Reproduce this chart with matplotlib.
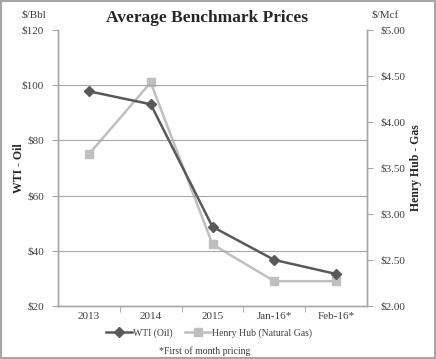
import matplotlib.pyplot as plt
from matplotlib.patches import Rectangle

categories = ['2013', '2014', '2015', 'Jan-16*', 'Feb-16*']
wti_oil = [97.8, 93.1, 48.7, 36.7, 31.6]
henry_hub = [3.65, 4.43, 2.67, 2.27, 2.27]
left_ticks = [20, 40, 60, 80, 100, 120]
right_ticks = [2.00, 2.50, 3.00, 3.50, 4.00, 4.50, 5.00]

plt.rcParams['font.family'] = ['Liberation Serif', 'DejaVu Serif']

fig = plt.figure(figsize=(4.36, 3.59), dpi=100)
ax = fig.add_axes([58 / 436, 1 - 306 / 359, 309 / 436, 276 / 359])
ax2 = ax.twinx()

x = list(range(len(categories)))
grid_col = '#a6a6a6'
txt_col = '#404040'

for v in left_ticks[1:-1]:
    ax.axhline(v, color=grid_col, lw=0.8, zorder=0)

l1, = ax.plot(x, wti_oil, color='#595959', lw=1.8, marker='D', ms=5,
              label='WTI (Oil)', zorder=3)
l2, = ax2.plot(x, henry_hub, color='#bfbfbf', lw=1.8, marker='s', ms=6,
               label='Henry Hub (Natural Gas)', zorder=2)
ax.set_zorder(ax2.get_zorder() + 1)
ax.patch.set_visible(False)

ax.set_xlim(-0.5, len(categories) - 0.5)
ax.set_ylim(20, 120)
ax2.set_ylim(2, 5)
ax.set_yticks(left_ticks)
ax.set_yticklabels([f'${v}' for v in left_ticks])
ax2.set_yticks(right_ticks)
ax2.set_yticklabels([f'${v:.2f}' for v in right_ticks])

ax.set_xticks(x)
ax.set_xticklabels(categories)
ax.set_xticks([i + 0.5 for i in x[:-1]], minor=True)
ax.tick_params(axis='x', which='major', length=0, pad=4, labelsize=8, colors=txt_col)
ax.tick_params(axis='x', which='minor', length=4, color=grid_col, direction='out')
ax.tick_params(axis='y', length=4, color=grid_col, labelsize=8, labelcolor=txt_col, pad=6)
ax2.tick_params(axis='y', length=4, color=grid_col, labelsize=8, labelcolor=txt_col, pad=6)

for a in (ax, ax2):
    for s in a.spines.values():
        s.set_color(grid_col)
        s.set_linewidth(1)
    a.spines['top'].set_visible(False)

ax.set_ylabel('WTI - Oil', fontsize=8.5, fontweight='bold', color='#262626')
ax.yaxis.set_label_coords(-33 / 309, 0.5)
ax2.set_ylabel('Henry Hub - Gas', fontsize=8.5, fontweight='bold', color='#262626')
ax2.yaxis.set_label_coords(1 + 43 / 309, 0.5)

fig.text(207 / 436, 1 - 18 / 359, 'Average Benchmark Prices', ha='center', va='center',
         fontsize=12.5, fontweight='bold', color='#262626')
fig.text(34 / 436, 1 - 15 / 359, '$/Bbl', ha='center', va='center', fontsize=8, color=txt_col)
fig.text(385 / 436, 1 - 15 / 359, '$/Mcf', ha='center', va='center', fontsize=8, color=txt_col)

fig.legend(handles=[l1, l2], loc='center', bbox_to_anchor=(209 / 436, 1 - 333 / 359),
           ncol=2, frameon=False, fontsize=7, handlelength=2.7, columnspacing=1.3,
           handletextpad=0.1, labelcolor=txt_col)
fig.text(205 / 436, 1 - 351 / 359, '*First of month pricing', ha='center', va='center',
         fontsize=7, color=txt_col)

fig.patches.append(Rectangle((0.002, 0.003), 0.995, 0.994, transform=fig.transFigure,
                             fill=False, edgecolor='#a6a6a6', lw=1.5))

fig.savefig('out.png', dpi=100)
